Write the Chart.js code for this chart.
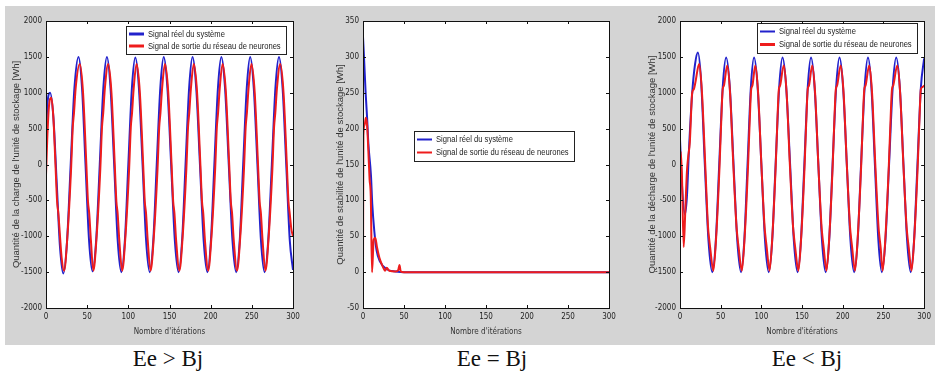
<!DOCTYPE html>
<html>
<head>
<meta charset="utf-8">
<script src="https://cdn.jsdelivr.net/npm/chart.js@4.4.0/dist/chart.umd.min.js"></script>
<style>
body { margin:0; background:#fff; width:940px; height:375px; overflow:hidden; position:relative; }
#fond { position:absolute; left:5px; top:6px; width:930px; height:339px; background:#d4d4d4; }
canvas { position:absolute; top:6px; }
.cas { position:absolute; top:347px; line-height:23px; font-family:'Liberation Serif','Times New Roman',serif; font-size:23px; color:#111; white-space:nowrap; transform:translateX(-50%); }
</style>
</head>
<body>
<div id="fond"></div>
<canvas id="c1" width="310" height="339" style="left:5px"></canvas>
<canvas id="c2" width="310" height="339" style="left:315px"></canvas>
<canvas id="c3" width="310" height="339" style="left:625px"></canvas>
<div class="cas" style="left:168px">Ee &gt; Bj</div>
<div class="cas" style="left:492px">Ee = Bj</div>
<div class="cas" style="left:807px">Ee &lt; Bj</div>
<script>
// legende des courbes
var noms = ['Signal réel du système', 'Signal de sortie du réseau de neurones'];
var xTitre = "Nombre d'itérations";
var yTitres = [
	"Quantité de la charge de l'unité de stockage [Wh]",
	"Quantité de stabilité de l'unité de stockage [Wh]",
	"Quantité de la décharge de l'unité de stockage [Wh]"
];
var xTicks = [0, 50, 100, 150, 200, 250, 300];

// Ee > Bj : charge
var chargeReel = [[0,450],[2,880],[5,1000],[9,650],[13,-250],[17,-1150],[21,-1520],
	[25.5,-1080],[30,0],[34.5,1060],[39.5,1500],[43.8,1060],[48,0],[52.3,-1060],[56.5,-1490],
	[60.9,-1060],[65.3,0],[69.6,1060],[74,1500],[78.4,1060],[82.8,0],[87.1,-1060],[91.5,-1500],
	[95.8,-1060],[100,0],[104.3,1060],[108.5,1490],[112.9,1060],[117.3,0],[121.6,-1060],[126,-1500],
	[130.3,-1060],[134.5,0],[138.8,1060],[143,1500],[147.5,1060],[152,0],[156.5,-1060],[161,-1500],
	[165.3,-1060],[169.5,0],[173.8,1060],[178,1500],[182.5,1060],[187,0],[191.5,-1060],[196,-1500],
	[200.3,-1060],[204.5,0],[208.8,1060],[213,1500],[217.5,1060],[222,0],[226.5,-1060],[231,-1500],
	[235.3,-1060],[239.5,0],[243.8,1060],[248,1500],[252.4,1060],[256.8,0],[261.1,-1060],[265.5,-1500],
	[269.9,-1060],[274.3,0],[278.6,1060],[283,1500],[287.4,1060],[291.8,0],[296.1,-1060],[300,-1470]];
var chargeNeur = [[0,-150],[1.5,350],[3.5,800],[6.5,930],[9,650],[11.5,0],[13.5,-520],[15,-680],[17,-1000],[19,-1300],[22,-1480],
	[26,-1000],[30.5,-50],[32.5,520],[34,720],[36,1060],[41,1400],
	[45,1000],[49,0],[51,-520],[52.5,-680],[54.5,-1050],[57.5,-1480],
	[61.5,-1000],[66,-50],[68,520],[69.5,720],[71.5,1060],[75.5,1400],
	[79.5,1000],[83.5,0],[85.5,-520],[87,-680],[89,-1050],[92.5,-1480],
	[96.5,-1000],[101,-50],[103,520],[104.5,720],[106.5,1060],[110,1400],
	[114,1000],[118,0],[120,-520],[121.5,-680],[123.5,-1050],[127,-1480],
	[131,-1000],[135.5,-50],[137.5,520],[139,720],[141,1060],[144.5,1400],
	[148.5,1000],[152.5,0],[154.5,-520],[156,-680],[158,-1050],[162,-1480],
	[166,-1000],[170.5,-50],[172.5,520],[174,720],[176,1060],[179.5,1400],
	[183.5,1000],[187.5,0],[189.5,-520],[191,-680],[193,-1050],[197,-1480],
	[201,-1000],[205.5,-50],[207.5,520],[209,720],[211,1060],[214.5,1400],
	[218.5,1000],[222.5,0],[224.5,-520],[226,-680],[228,-1050],[232,-1480],
	[236,-1000],[240.5,-50],[242.5,520],[244,720],[246,1060],[249.5,1400],
	[253.5,1000],[257.5,0],[259.5,-520],[261,-680],[263,-1050],[266.5,-1480],
	[270.5,-1000],[275,-50],[277,520],[278.5,720],[280.5,1060],[284.5,1400],
	[288.5,1000],[292.5,0],[294.5,-520],[296,-680],[298,-900],[300,-1000]];

// Ee = Bj : stabilite
var stabReel = [[0,328],[1.2,300],[3.2,250],[5,215],[6.5,180],[9.7,135],[11.3,95],[13.8,57],
	[16.6,30],[20.6,15],[28.7,4],[40,1],[50,0],[300,0]];
var stabNeur = [[0,0],[0.5,190],[2,205],[3.5,215],[5,205],[6.5,170],[8,130],[9.5,105],[11,0],
	[13,45],[15,48],[17,35],[20,20],[24,8],[27,2],[29,6],[32,2],[40,1],[43,3],[44.5,10],[46,1],[50,0],[300,0]];

// Ee < Bj : decharge
var dechReel = [[0,350],[2.5,-300],[6,-700],[8.5,-450],[11,200],[15,1000],[18.5,1400],[22,1560],
	[26,1150],[30.5,0],[35,-1060],[39.7,-1500],
	[44,-1060],[48.2,0],[52.4,1060],[56.7,1490],[61.3,1060],[65.8,0],[70.4,-1060],[75,-1500],
	[79,-1060],[83,0],[87,1060],[91,1490],[95.5,1060],[100,0],[104.5,-1060],[109,-1500],
	[113.3,-1060],[117.5,0],[121.8,1060],[126,1490],[130.6,1060],[135.3,0],[139.9,-1060],[144.5,-1500],
	[148.6,-1060],[152.8,0],[156.9,1060],[161,1490],[165.5,1060],[170,0],[174.5,-1060],[179,-1500],
	[183.3,-1060],[187.5,0],[191.8,1060],[196,1490],[200.5,1060],[205,0],[209.5,-1060],[214,-1500],
	[218.3,-1060],[222.5,0],[226.8,1060],[231,1490],[235.3,1060],[239.5,0],[243.8,-1060],[248,-1500],
	[252.4,-1060],[256.9,0],[261.3,1060],[265.7,1490],[270.2,1060],[274.6,0],[279.1,-1060],[283.5,-1500],
	[287.6,-1060],[291.8,0],[295.9,1060],[300,1480]];
var dechNeur = [[0,-100],[1,180],[2.5,-200],[4.5,-1150],[6.5,-650],[8.5,-100],[10,100],[12,300],[15,1000],[17,1050],[19,1150],[23.5,1400],
	[27,1000],[31,0],[34.5,-880],[35.5,-1000],[37,-1150],[41,-1480],
	[44.5,-1000],[48.5,-50],[51.5,850],[52.5,1050],[54,1100],[58,1380],
	[61.5,1000],[65.5,0],[69.5,-880],[70.5,-1000],[72,-1150],[76,-1480],
	[79.5,-1000],[83.5,-50],[86.5,850],[87.5,1050],[89,1100],[92.5,1380],
	[96,1000],[100,0],[104,-880],[105,-1000],[106.5,-1150],[110,-1480],
	[113.5,-1000],[117.5,-50],[120.5,850],[121.5,1050],[123,1100],[127.5,1380],
	[131,1000],[135,0],[139,-880],[140,-1000],[141.5,-1150],[145.5,-1480],
	[149,-1000],[153,-50],[156,850],[157,1050],[158.5,1100],[162.5,1380],
	[166,1000],[170,0],[174,-880],[175,-1000],[176.5,-1150],[180,-1480],
	[183.5,-1000],[187.5,-50],[190.5,850],[191.5,1050],[193,1100],[197.5,1380],
	[201,1000],[205,0],[209,-880],[210,-1000],[211.5,-1150],[215,-1480],
	[218.5,-1000],[222.5,-50],[225.5,850],[226.5,1050],[228,1100],[232.5,1380],
	[236,1000],[240,0],[244,-880],[245,-1000],[246.5,-1150],[249,-1480],
	[252.5,-1000],[256.5,-50],[259.5,850],[260.5,1050],[262,1100],[267,1380],
	[270.5,1000],[274.5,0],[278.5,-880],[279.5,-1000],[281,-1150],[284.5,-1480],
	[288,-1000],[292,-50],[295,850],[296,1050],[298,1080],[300,1100]];

var bleu = '#2222cc';
var rouge = '#ee1c1c';
var etroit = "'DejaVu Sans Condensed','Liberation Sans',sans-serif";

// cadre noir + graduations vers l'interieur (style matlab)
var cadre = {
	id: 'cadre',
	beforeDraw: function(chart) {
		var a = chart.chartArea, ctx = chart.ctx;
		ctx.save();
		ctx.fillStyle = '#fff';
		ctx.fillRect(a.left, a.top, a.right - a.left, a.bottom - a.top);
		ctx.restore();
	},
	afterDraw: function(chart) {
		var a = chart.chartArea, ctx = chart.ctx;
		var sx = chart.scales.x, sy = chart.scales.y;
		ctx.save();
		ctx.strokeStyle = '#111';
		ctx.lineWidth = 1;
		ctx.beginPath();
		sx.ticks.forEach(function(t) {
			var p = Math.round(sx.getPixelForValue(t.value)) + 0.5;
			ctx.moveTo(p, a.bottom); ctx.lineTo(p, a.bottom - 3);
			ctx.moveTo(p, a.top); ctx.lineTo(p, a.top + 3);
		});
		sy.ticks.forEach(function(t) {
			var p = Math.round(sy.getPixelForValue(t.value)) + 0.5;
			ctx.moveTo(a.left, p); ctx.lineTo(a.left + 3, p);
			ctx.moveTo(a.right, p); ctx.lineTo(a.right - 3, p);
		});
		ctx.stroke();
		ctx.strokeRect(Math.round(a.left) + 0.5, Math.round(a.top) + 0.5, Math.round(a.right - a.left), Math.round(a.bottom - a.top));
		ctx.restore();
	}
};

// boite de legende dans la zone du graphe (texte un peu serre comme sur la figure)
var boite = {
	id: 'boite',
	afterDatasetsDraw: function(chart, args, o) {
		var a = chart.chartArea, ctx = chart.ctx;
		var ds = chart.data.datasets;
		var serre = 0.8;
		ctx.save();
		ctx.font = o.taille + "px 'Liberation Sans',sans-serif";
		var tw = 0;
		ds.forEach(function(d) { tw = Math.max(tw, ctx.measureText(d.label).width * serre); });
		var w = Math.round(3 + o.trait + 4 + tw + 5);
		var h = o.ligne * ds.length + 4;
		var x = o.droite != null ? Math.round(a.right - o.droite - w) : Math.round(a.left + o.gauche);
		var y = Math.round(a.top + o.haut);
		ctx.fillStyle = '#fff';
		ctx.fillRect(x, y, w, h);
		ctx.strokeStyle = '#222';
		ctx.lineWidth = 1;
		ctx.strokeRect(x + 0.5, y + 0.5, w, h);
		ds.forEach(function(d, i) {
			var cy = y + 2 + o.ligne * (i + 0.5);
			ctx.strokeStyle = d.borderColor;
			ctx.lineWidth = o.epais[i];
			ctx.beginPath();
			ctx.moveTo(x + 3, cy); ctx.lineTo(x + 3 + o.trait, cy);
			ctx.stroke();
			ctx.save();
			ctx.translate(x + 3 + o.trait + 4, cy);
			ctx.scale(serre, 1);
			ctx.fillStyle = '#222';
			ctx.textBaseline = 'middle';
			ctx.fillText(d.label, 0, 0);
			ctx.restore();
		});
		ctx.restore();
	}
};

function graphe(id, reel, neur, ymin, ymax, pas, ytitre, pad, ylarg, leg, ep) {
	var pts = function(l) { return l.map(function(p) { return {x: p[0], y: p[1]}; }); };
	return new Chart(document.getElementById(id), {
		type: 'line',
		data: {
			datasets: [
				{label: noms[0], data: pts(reel), borderColor: bleu, borderWidth: ep, pointRadius: 0, cubicInterpolationMode: 'monotone', order: 1},
				{label: noms[1], data: pts(neur), borderColor: rouge, borderWidth: ep, pointRadius: 0, cubicInterpolationMode: 'monotone', order: 0}
			]
		},
		options: {
			responsive: false,
			animation: false,
			layout: {padding: pad},
			plugins: {legend: {display: false}, tooltip: {enabled: false}, boite: leg},
			scales: {
				x: {
					type: 'linear', min: 0, max: 300,
					afterBuildTicks: function(s) { s.ticks = xTicks.map(function(v) { return {value: v}; }); },
					ticks: {padding: 4, color: '#222', maxRotation: 0, autoSkip: false, font: {family: etroit, size: 8}, callback: function(v) { return String(v); }},
					grid: {display: false, drawTicks: false},
					border: {display: false},
					title: {display: true, text: xTitre, color: '#333', font: {family: etroit, size: 8}, padding: {top: 2, bottom: 8}},
					afterFit: function(s) { s.height = 37; }
				},
				y: {
					min: ymin, max: ymax,
					ticks: {stepSize: pas, padding: 4, color: '#222', font: {family: etroit, size: 8}, callback: function(v) { return String(v); }},
					grid: {display: false, drawTicks: false},
					border: {display: false},
					title: {display: true, text: ytitre, color: '#333', font: {family: "'Liberation Sans',sans-serif", size: 9.5}, padding: {top: 4, bottom: 4}},
					afterFit: function(s) { s.width = ylarg; }
				}
			}
		},
		plugins: [cadre, boite]
	});
}

graphe('c1', chargeReel, chargeNeur, -2000, 2000, 500, yTitres[0],
	{left: 2, right: 22, top: 15, bottom: 0}, 39,
	{droite: 7, haut: 5, ligne: 12, trait: 15, taille: 9.5, epais: [3, 3]}, 2);
graphe('c2', stabReel, stabNeur, -50, 350, 50, yTitres[1],
	{left: 16, right: 16, top: 15, bottom: 0}, 32,
	{gauche: 51, haut: 110, ligne: 13, trait: 15, taille: 9.5, epais: [2, 2]}, 2);
graphe('c3', dechReel, dechNeur, -2000, 2000, 500, yTitres[2],
	{left: 18, right: 9, top: 15, bottom: 0}, 37,
	{droite: 7, haut: 2, ligne: 13, trait: 15, taille: 9.5, epais: [2, 3]}, 2);
</script>
</body>
</html>
